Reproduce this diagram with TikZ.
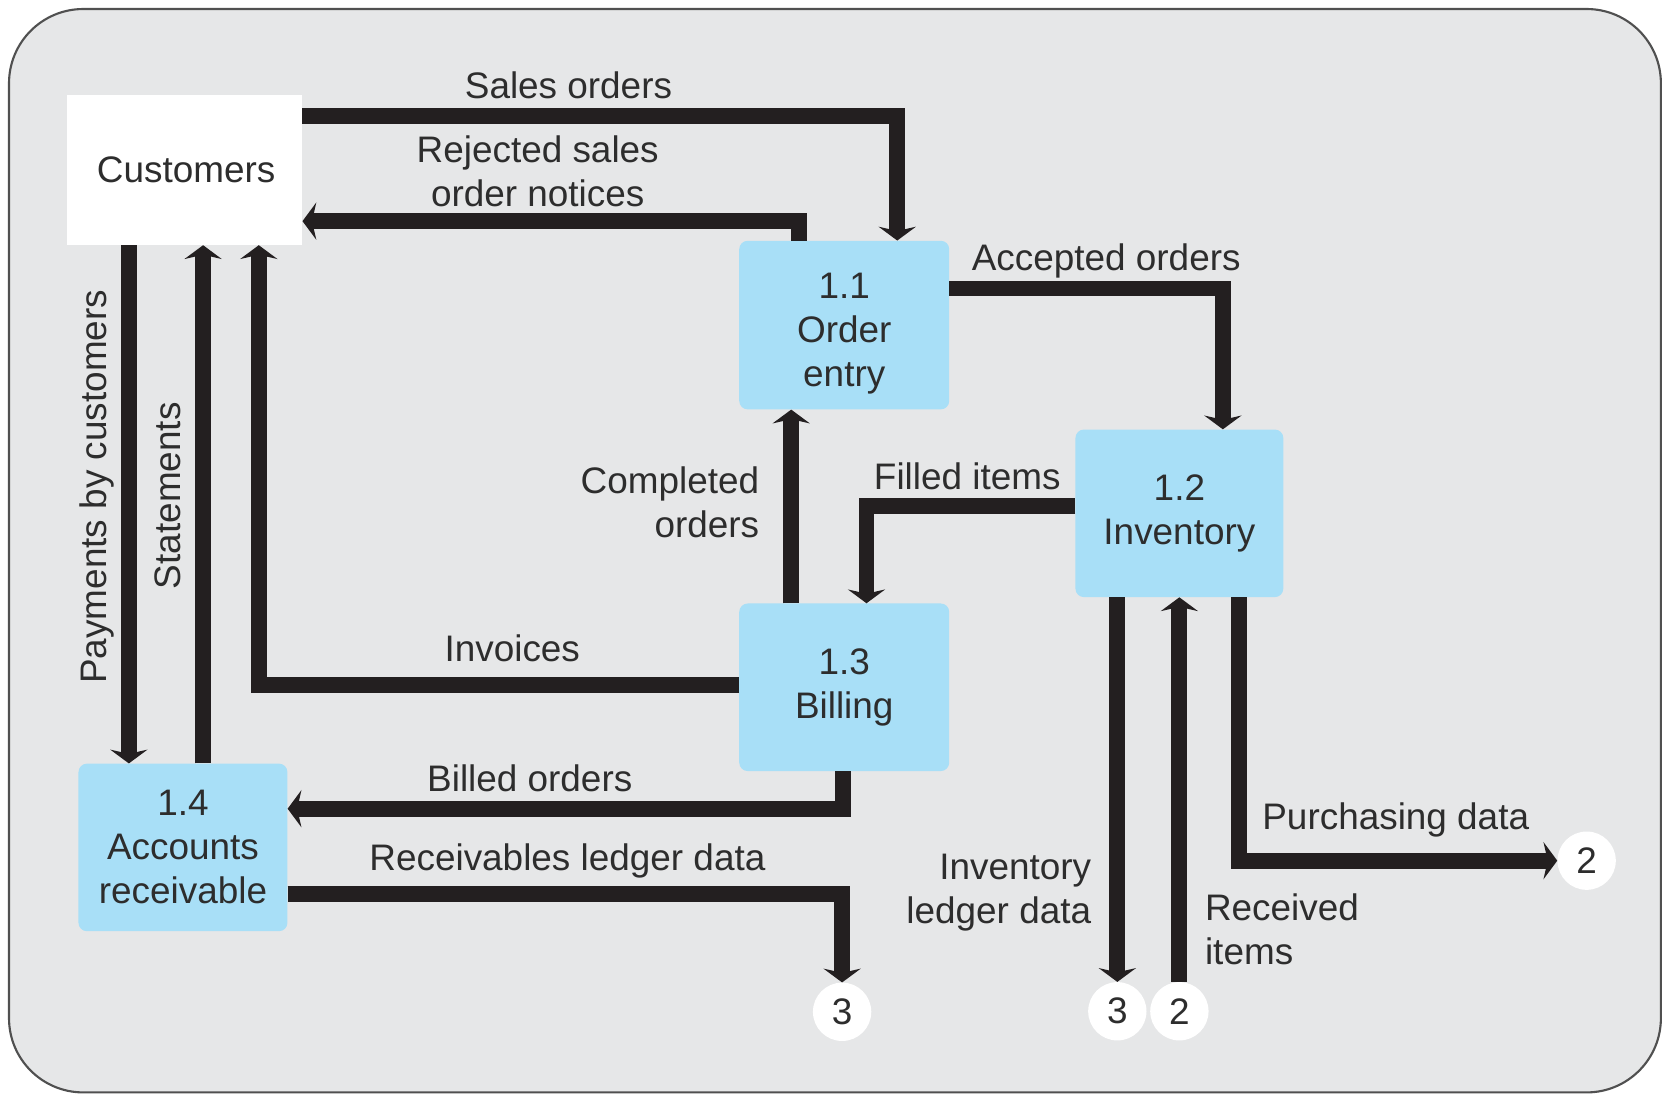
\documentclass[tikz,border=0pt]{standalone}
\usepackage{fontspec}
\setmainfont{Liberation Sans}
\usetikzlibrary{arrows.meta}

\definecolor{framefill}{RGB}{230,231,232}
\definecolor{framedraw}{RGB}{80,80,80}
\definecolor{procfill}{RGB}{168,223,247}
\definecolor{flowink}{RGB}{35,31,32}
\definecolor{textink}{RGB}{45,45,45}

\begin{document}
\begin{tikzpicture}[x=1pt,y=-1pt,
  every node/.style={font=\fontsize{34.8}{41.5}\selectfont, text=textink, inner sep=0pt},
  process/.style={fill=procfill, rounded corners=8pt, align=center},
  terminal/.style={fill=white},
  connector/.style={circle, fill=white, minimum size=55pt},
  flow/.style={draw=flowink, line width=15pt,
    -{Stealth[length=13pt,width=35pt,inset=4pt]}},
  lbl/.style={anchor=base, align=center},
]
\useasboundingbox (0,0) rectangle (1568,1033);

% background panel
\draw[draw=framedraw, fill=framefill, line width=2pt, rounded corners=70pt]
  (8.5,8.5) rectangle (1566,1030);

% external entity and processes
\node[terminal, minimum width=222pt, minimum height=141pt] (cust) at (174,160.5) {\hspace*{3pt}Customers};
\node[process, minimum width=198pt, minimum height=159pt, text height=115pt, text depth=0pt]
  (oe) at (796,306.5) {1.1\\Order\\entry};
\node[process, minimum width=196pt, minimum height=158pt] (inv) at (1112,484) {1.2\\Inventory};
\node[process, minimum width=198pt, minimum height=158pt] (bill) at (796,648) {1.3\\Billing};
\node[process, minimum width=197pt, minimum height=158pt] (ar) at (172.5,799) {1.4\\Accounts\\receivable};

% off-page connectors
\node[connector] (c3a) at (794,954) {3};
\node[connector] (c3b) at (1053.5,953.5) {3};
\node[connector] (c2a) at (1112,953.5) {2};
\node[connector] (c2b) at (1496,811.5) {2};

% bend points of the flows
\coordinate (soTurn) at (846,109.5);
\coordinate (rjTurn) at (753,208.5);
\coordinate (acTurn) at (1153,272);
\coordinate (coX) at (746,0);
\coordinate (fiTurn) at (817,477.5);
\coordinate (ivTurn) at (244,645.5);
\coordinate (pyX) at (121.5,0);
\coordinate (stX) at (191.5,0);
\coordinate (boTurn) at (795,762.5);
\coordinate (rlTurn) at (794,842.5);
\coordinate (pdTurn) at (1168,811.5);

% data flows
\draw[flow] (cust.east |- soTurn) -- (soTurn) -- (soTurn |- oe.north);
\draw[flow] (rjTurn |- oe.north) -- (rjTurn) -- (rjTurn -| cust.east);
\draw[flow] (oe.east |- acTurn) -- (acTurn) -- (acTurn |- inv.north);
\draw[flow] (coX |- bill.north) -- (coX |- oe.south);
\draw[flow] (inv.west |- fiTurn) -- (fiTurn) -- (fiTurn |- bill.north);
\draw[flow] (bill.west |- ivTurn) -- (ivTurn) -- (ivTurn |- cust.south);
\draw[flow] (pyX |- cust.south) -- (pyX |- ar.north);
\draw[flow] (stX |- ar.north) -- (stX |- cust.south);
\draw[flow] (boTurn |- bill.south) -- (boTurn) -- (boTurn -| ar.east);
\draw[flow] (ar.east |- rlTurn) -- (rlTurn) -- (c3a.north);
\draw[flow] (c3b |- inv.south) -- (c3b.north);
\draw[flow] (c2a.north) -- (c2a |- inv.south);
\draw[flow] (pdTurn |- inv.south) -- (pdTurn) -- (c2b.west);

% flow labels (multi-line labels are placed by their last baseline)
\node[lbl] (lSales) at (536,92.5) {Sales orders};
\node[lbl] (lReject) at (507,195) {Rejected sales\\order notices};
\node[lbl] (lAccept) at (1043,255.5) {Accepted orders};
\node[lbl, align=right, anchor=base east] (lComplete) at (716,506.5) {Completed\\orders};
\node[lbl] (lFilled) at (912,462) {Filled items};
\node[lbl] (lInvoice) at (483,624) {Invoices};
\node[lbl] (lBilled) at (499.5,746.5) {Billed orders};
\node[lbl] (lRecv) at (535,821) {Receivables ledger data};
\node[lbl, align=right, anchor=base east] (lInvLed) at (1029,870.5) {Inventory\\ledger data};
\node[lbl, align=left, anchor=base west] (lRcvd) at (1136,909.5) {Received\\items};
\node[lbl] (lPurch) at (1316,782.5) {Purchasing data};
\node[lbl, rotate=90] (lPay) at (100.5,459) {Payments by customers};
\node[lbl, rotate=90] (lStmt) at (170.5,467.5) {Statements};
\end{tikzpicture}
\end{document}
